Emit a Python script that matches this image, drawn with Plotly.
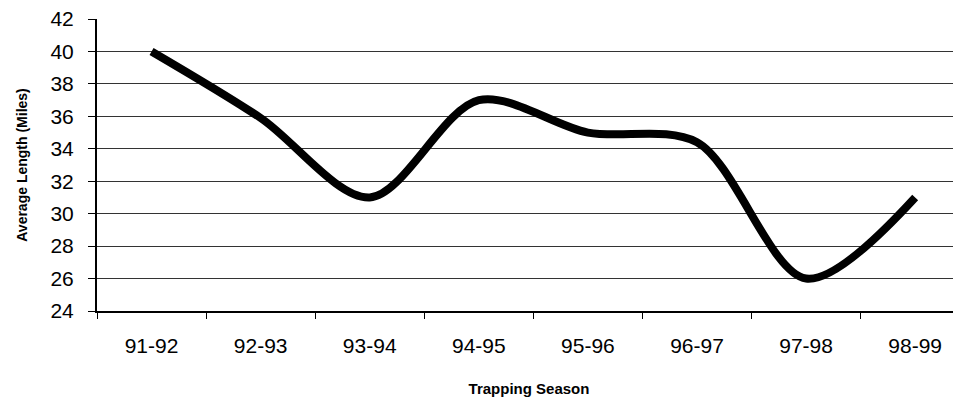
"""Average trap-line length per trapping season (smoothed line)."""
import plotly.graph_objects as go

SEASONS = ["91-92", "92-93", "93-94", "94-95", "95-96", "96-97", "97-98", "98-99"]
AVG_LENGTH = [40.0, 35.9, 31.0, 37.0, 35.0, 34.4, 26.0, 31.0]
Y_TICKS = list(range(24, 43, 2))

FONT = "Liberation Sans, Arial, sans-serif"

fig = go.Figure()
fig.add_trace(go.Scatter(
    x=SEASONS, y=AVG_LENGTH, mode="lines",
    line=dict(color="#000000", width=8, shape="spline", smoothing=0.9),
    showlegend=False,
))

# page body adds an 8px offset, margins compensate for it
fig.update_layout(
    width=961, height=403,
    paper_bgcolor="white", plot_bgcolor="white",
    margin=dict(l=89, r=8, t=11, b=100),
    font=dict(family=FONT, color="#000000"),
    xaxis=dict(
        type="category", range=[-0.5, 7.42], automargin=False,
        tickson="boundaries", ticks="outside", ticklen=6, tickcolor="#000",
        showline=True, linecolor="#000", linewidth=2,
        showgrid=False, tickfont=dict(size=21), ticklabelstandoff=15,
        title=dict(text="<b>Trapping Season</b>", font=dict(size=15), standoff=27),
    ),
    yaxis=dict(
        range=[24, 42], tickvals=Y_TICKS, ticks="outside", ticklen=7,
        tickcolor="#000", showline=True, linecolor="#000", linewidth=2,
        gridcolor="#333", gridwidth=1, zeroline=False, automargin=False,
        tickfont=dict(size=21), ticklabelstandoff=10, ticklabeloverflow="allow",
        title=dict(text="<b>Average Length (Miles)</b>", font=dict(size=14), standoff=20),
    ),
)

fig.write_html("out.html")
